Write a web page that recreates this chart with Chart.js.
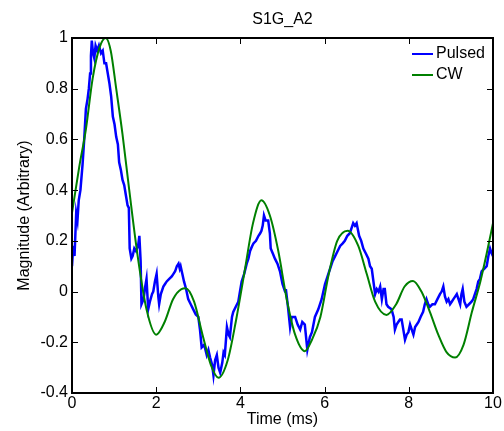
<!DOCTYPE html>
<html>
<head>
<meta charset="utf-8">
<script src="https://cdn.jsdelivr.net/npm/chart.js@4.4.1/dist/chart.umd.min.js"></script>
<style>
  html, body { margin: 0; padding: 0; background: #fff; }
  canvas { display: block; }
</style>
</head>
<body>
<canvas id="chart" width="504" height="431"></canvas>
<script>
// tick positions
const xTicks = [0, 2, 4, 6, 8, 10]
const yTicks = [-0.4, -0.2, 0, 0.2, 0.4, 0.6, 0.8, 1]

// Pulsed (blue, noisy trace)
const pulsedTime = [
  0.0, 0.03, 0.06, 0.1, 0.13, 0.16, 0.2, 0.25, 0.29, 0.33, 0.37, 0.4, 0.43, 0.45, 0.47, 0.5, 0.53, 0.56, 0.6, 0.64,
  0.69, 0.73, 0.77, 0.81, 0.84, 0.89, 0.93, 0.97, 1.01, 1.05, 1.09, 1.12, 1.16, 1.2, 1.24, 1.28, 1.32, 1.35, 1.37, 1.41,
  1.44, 1.48, 1.52, 1.57, 1.6, 1.63, 1.65, 1.7, 1.74, 1.77, 1.81, 1.85, 1.9, 1.93, 1.97, 2.01, 2.05, 2.07, 2.11, 2.17,
  2.21, 2.25, 2.31, 2.37, 2.41, 2.45, 2.49, 2.53, 2.56, 2.58, 2.62, 2.66, 2.71, 2.76, 2.82, 2.88, 2.94, 3.0, 3.04, 3.08,
  3.14, 3.2, 3.24, 3.28, 3.33, 3.36, 3.4, 3.44, 3.48, 3.52, 3.57, 3.6, 3.63, 3.68, 3.72, 3.75, 3.8, 3.83, 3.89, 3.95,
  4.0, 4.03, 4.09, 4.15, 4.19, 4.23, 4.28, 4.31, 4.37, 4.43, 4.47, 4.5, 4.53, 4.56, 4.6, 4.66, 4.7, 4.72, 4.77, 4.82,
  4.88, 4.94, 5.0, 5.06, 5.08, 5.13, 5.18, 5.22, 5.3, 5.36, 5.42, 5.47, 5.53, 5.59, 5.65, 5.7, 5.77, 5.85, 5.93, 6.01,
  6.07, 6.13, 6.19, 6.25, 6.31, 6.37, 6.43, 6.48, 6.54, 6.6, 6.64, 6.68, 6.72, 6.76, 6.82, 6.87, 6.92, 6.98, 7.04, 7.08,
  7.12, 7.2, 7.24, 7.28, 7.32, 7.36, 7.4, 7.43, 7.47, 7.51, 7.59, 7.64, 7.67, 7.71, 7.75, 7.79, 7.83, 7.87, 7.91, 7.95,
  7.99, 8.03, 8.07, 8.11, 8.15, 8.19, 8.23, 8.28, 8.34, 8.38, 8.42, 8.46, 8.5, 8.56, 8.62, 8.68, 8.74, 8.78, 8.82, 8.86,
  8.9, 8.94, 8.98, 9.02, 9.06, 9.1, 9.14, 9.18, 9.22, 9.25, 9.28, 9.32, 9.37, 9.43, 9.49, 9.53, 9.57, 9.61, 9.65, 9.69,
  9.73, 9.79, 9.85, 9.89, 9.93, 9.97, 10.0
]
const pulsedValues = [
  0.10, 0.18, 0.14, 0.31, 0.28, 0.36, 0.40, 0.50, 0.60, 0.72, 0.76, 0.80, 0.86, 0.93, 0.99, 0.94, 0.92, 0.97, 0.95, 0.97,
  0.94, 0.95, 0.90, 0.90, 0.87, 0.82, 0.77, 0.69, 0.66, 0.61, 0.58, 0.51, 0.48, 0.44, 0.42, 0.38, 0.34, 0.33, 0.17, 0.13,
  0.14, 0.17, 0.16, 0.18, 0.22, 0.12, -0.05, -0.03, 0.02, 0.05, -0.07, -0.04, -0.01, 0.00, 0.04, 0.07, -0.02, -0.05, -0.01, 0.02,
  0.03, 0.04, 0.05, 0.06, 0.07, 0.08, 0.10, 0.11, 0.09, 0.10, 0.07, 0.04, 0.01, -0.03, -0.05, -0.07, -0.09, -0.10, -0.15, -0.22,
  -0.21, -0.25, -0.23, -0.26, -0.29, -0.33, -0.27, -0.25, -0.30, -0.32, -0.28, -0.24, -0.25, -0.14, -0.17, -0.18, -0.10, -0.08, -0.06, -0.04,
  0.01, 0.04, 0.07, 0.11, 0.13, 0.16, 0.18, 0.19, 0.20, 0.22, 0.23, 0.24, 0.26, 0.30, 0.28, 0.28, 0.23, 0.17, 0.15, 0.13,
  0.11, 0.08, 0.03, 0.00, 0.01, -0.06, -0.14, -0.10, -0.10, -0.13, -0.15, -0.12, -0.13, -0.23, -0.18, -0.16, -0.10, -0.07, -0.03, 0.03,
  0.06, 0.09, 0.12, 0.14, 0.16, 0.18, 0.19, 0.20, 0.22, 0.23, 0.25, 0.27, 0.26, 0.27, 0.22, 0.20, 0.17, 0.15, 0.13, 0.10,
  0.09, -0.01, 0.01, 0.00, 0.02, -0.03, 0.01, 0.01, -0.05, -0.06, -0.07, -0.10, -0.15, -0.13, -0.12, -0.11, -0.11, -0.15, -0.19, -0.17,
  -0.16, -0.13, -0.15, -0.17, -0.14, -0.13, -0.12, -0.10, -0.08, -0.05, -0.03, -0.05, -0.06, -0.05, -0.05, -0.03, -0.01, 0.00, 0.02, -0.02,
  -0.04, -0.03, -0.05, -0.04, -0.03, -0.02, -0.01, -0.03, -0.05, -0.01, 0.01, -0.04, -0.06, -0.05, -0.04, -0.03, -0.01, 0.01, 0.04, 0.05,
  0.08, 0.09, 0.10, 0.14, 0.17, 0.15, 0.14
]

// CW (green, smooth)
const cwTime = [
  0.0, 0.17, 0.33, 0.49, 0.65, 0.8, 0.92, 1.05, 1.2, 1.36, 1.56, 1.77, 2.0, 2.2, 2.4, 2.6, 2.7, 2.9, 3.1, 3.3,
  3.48, 3.7, 3.9, 4.1, 4.3, 4.5, 4.7, 4.9, 5.1, 5.3, 5.53, 5.7, 5.9, 6.1, 6.3, 6.55, 6.8, 7.0, 7.2, 7.47,
  7.7, 7.9, 8.1, 8.3, 8.5, 8.7, 8.9, 9.1, 9.3, 9.5, 9.7, 9.85, 10.0
]
const cwValues = [
  0.31, 0.49, 0.64, 0.84, 0.96, 1.00, 0.95, 0.80, 0.62, 0.40, 0.14, -0.07, -0.17, -0.12, -0.03, 0.01, 0.013, -0.04, -0.17, -0.29,
  -0.34, -0.27, -0.11, 0.08, 0.27, 0.36, 0.30, 0.16, -0.03, -0.17, -0.235, -0.19, -0.10, 0.07, 0.20, 0.24, 0.18, 0.07, -0.04, -0.092,
  -0.05, 0.02, 0.042, 0.0, -0.08, -0.17, -0.24, -0.26, -0.21, -0.08, 0.04, 0.15, 0.27
]

const FONT = "'Liberation Sans', Arial, Helvetica, sans-serif"

const toPoints = (xs, ys) => xs.map((x, i) => ({ x: x, y: ys[i] }))

// black box with inward tick marks on all sides, plus the legend
const framePlugin = {
  id: "frame",
  afterDraw(chart) {
    const { ctx, chartArea: a, scales } = chart
    const tick = 6
    ctx.save()
    ctx.strokeStyle = "#000"
    ctx.lineWidth = 1
    ctx.beginPath()
    xTicks.forEach(v => {
      const px = Math.round(scales.x.getPixelForValue(v)) + 0.5
      ctx.moveTo(px, a.bottom); ctx.lineTo(px, a.bottom - tick)
      ctx.moveTo(px, a.top); ctx.lineTo(px, a.top + tick)
    })
    yTicks.forEach(v => {
      const py = Math.round(scales.y.getPixelForValue(v)) + 0.5
      ctx.moveTo(a.left, py); ctx.lineTo(a.left + tick, py)
      ctx.moveTo(a.right, py); ctx.lineTo(a.right - tick, py)
    })
    ctx.stroke()
    ctx.lineWidth = 2
    ctx.strokeRect(a.left, a.top, a.right - a.left, a.bottom - a.top)

    // legend
    ctx.font = "16px " + FONT
    ctx.textBaseline = "middle"
    ctx.textAlign = "left"
    chart.data.datasets.slice().sort((p, q) => p.legendIndex - q.legendIndex).forEach((ds, i) => {
      const y = a.top + 16 + i * 21
      ctx.strokeStyle = ds.borderColor
      ctx.lineWidth = 2
      ctx.beginPath()
      ctx.moveTo(a.right - 81, y)
      ctx.lineTo(a.right - 60, y)
      ctx.stroke()
      ctx.fillStyle = "#000"
      ctx.fillText(ds.label, a.right - 57, y)
    })
    ctx.restore()
  }
}

new Chart(document.getElementById("chart"), {
  type: "line",
  data: {
    datasets: [
      {
        label: "CW",
        legendIndex: 1,
        data: toPoints(cwTime, cwValues),
        borderColor: "#008000",
        borderWidth: 2,
        pointRadius: 0,
        tension: 0.4,
        cubicInterpolationMode: "monotone",
        fill: false,
        order: 1
      },
      {
        label: "Pulsed",
        legendIndex: 0,
        data: toPoints(pulsedTime, pulsedValues),
        borderColor: "#0000ff",
        borderWidth: 2.5,
        pointRadius: 0,
        tension: 0,
        fill: false,
        order: 2
      }
    ]
  },
  options: {
    responsive: false,
    devicePixelRatio: 1,
    animation: false,
    layout: { padding: { left: 0, right: 11, top: 0, bottom: 0 } },
    plugins: {
      legend: { display: false },
      tooltip: { enabled: false },
      title: {
        display: true,
        fullSize: false,
        text: "S1G_A2",
        color: "#000",
        font: { family: FONT, size: 16, weight: "normal" },
        padding: { top: 10.4, bottom: 8.4 }
      }
    },
    scales: {
      x: {
        type: "linear",
        min: 0,
        max: 10,
        grid: { display: false, drawTicks: false },
        border: { display: false },
        afterBuildTicks: s => { s.ticks = xTicks.map(v => ({ value: v })) },
        afterFit: s => { s.height = 38 },
        ticks: {
          color: "#000",
          font: { family: FONT, size: 16 },
          padding: 1,
          maxRotation: 0,
          autoSkip: false,
          callback: v => String(v)
        },
        title: {
          display: true,
          text: "Time (ms)",
          color: "#000",
          font: { family: FONT, size: 16 },
          padding: { top: 0, bottom: 2 }
        }
      },
      y: {
        type: "linear",
        min: -0.4,
        max: 1,
        grid: { display: false, drawTicks: false },
        border: { display: false },
        afterBuildTicks: s => { s.ticks = yTicks.map(v => ({ value: v })) },
        afterFit: s => { s.width = 72 },
        ticks: {
          color: "#000",
          font: { family: FONT, size: 16 },
          padding: 4,
          autoSkip: false,
          callback: v => String(Math.round(v * 10) / 10)
        },
        title: {
          display: true,
          text: "Magnitude (Arbitrary)",
          color: "#000",
          font: { family: FONT, size: 16 },
          padding: { top: 15, bottom: 0 }
        }
      }
    }
  },
  plugins: [framePlugin]
})
</script>
</body>
</html>
